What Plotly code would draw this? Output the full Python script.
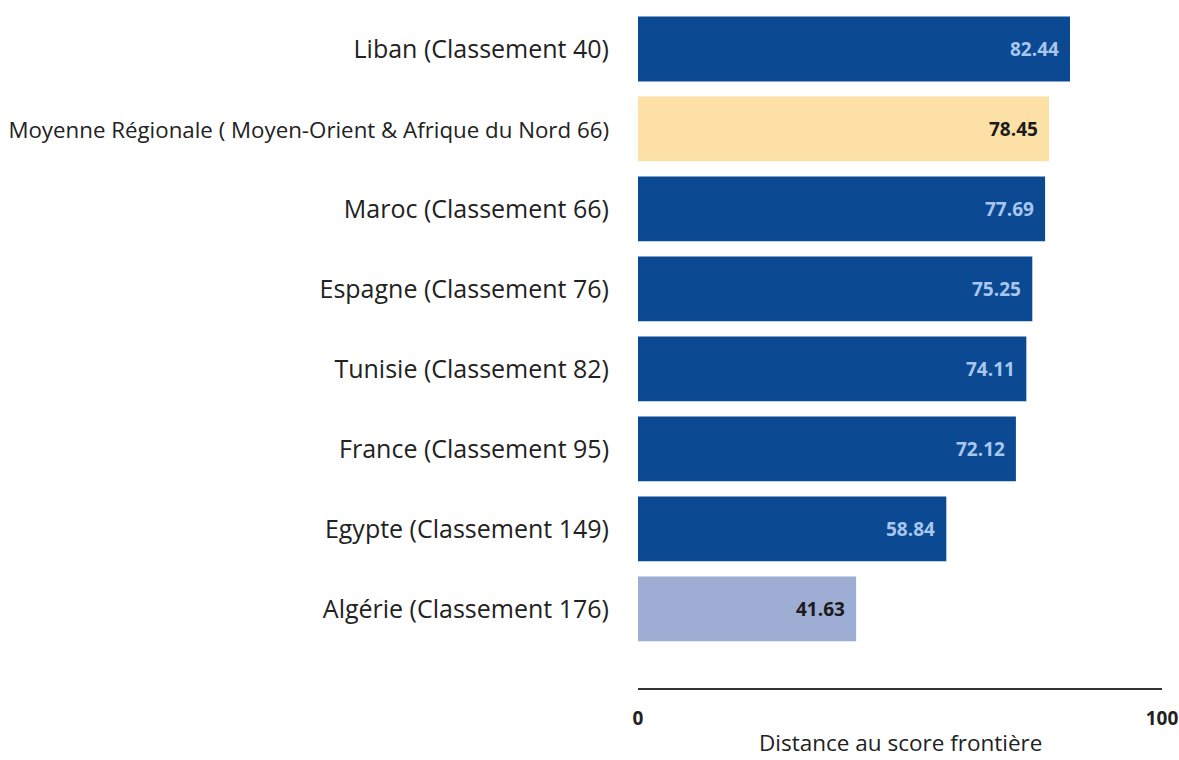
import plotly.graph_objects as go

categories = [
    "Liban (Classement 40)",
    "Moyenne Régionale ( Moyen-Orient & Afrique du Nord 66)",
    "Maroc (Classement 66)",
    "Espagne (Classement 76)",
    "Tunisie (Classement 82)",
    "France (Classement 95)",
    "Egypte (Classement 149)",
    "Algérie (Classement 176)",
]
values = [82.44, 78.45, 77.69, 75.25, 74.11, 72.12, 58.84, 41.63]
bar_colors = ["#0b4a92", "#fde0a6", "#0b4a92", "#0b4a92", "#0b4a92", "#0b4a92", "#0b4a92", "#9eadd3"]
text_colors = ["#a9c6ee", "#1b1b1b", "#a9c6ee", "#a9c6ee", "#a9c6ee", "#a9c6ee", "#a9c6ee", "#1b1b1b"]
x_ticks = [0, 100]
x_title = "Distance au score frontière"

FONT = "Open Sans, Noto Sans, sans-serif"

tick_text = []
for c in categories:
    if c.startswith("Moyenne"):
        tick_text.append('<span style="font-size:22.3px">' + c + "</span>")
    else:
        tick_text.append(c)

fig = go.Figure()
fig.add_trace(go.Bar(
    y=categories,
    x=values,
    orientation="h",
    marker=dict(color=bar_colors, line=dict(width=0)),
    width=0.81,
    hoverinfo="x+y",
))

for c, v, tc in zip(categories, values, text_colors):
    fig.add_annotation(
        x=v, y=c, xref="x", yref="y",
        text="<b>%.2f</b>" % v,
        xanchor="right", yanchor="middle",
        xshift=-9, showarrow=False,
        font=dict(family=FONT, size=19, color=tc),
    )

fig.add_annotation(
    x=0.5, y=-0.081, xref="paper", yref="paper",
    text=x_title, showarrow=False,
    xanchor="center", yanchor="middle",
    font=dict(family=FONT, size=22.5, color="#222222"),
)

fig.update_layout(
    autosize=False,
    width=1179, height=760,
    margin=dict(l=638, r=17, t=9, b=72),
    paper_bgcolor="white", plot_bgcolor="white",
    showlegend=False,
    font=dict(family=FONT, color="#222222"),
    xaxis=dict(
        range=[0, 100],
        tickvals=x_ticks,
        ticktext=["<b>%d</b>" % t for t in x_ticks],
        tickfont=dict(size=19, color="#222222", family=FONT),
        showgrid=False, zeroline=False,
        showline=True, linecolor="#333333", linewidth=2,
        ticks="", ticklabelstandoff=12,
        automargin=False,
        fixedrange=True,
    ),
    yaxis=dict(
        type="category",
        categoryorder="array", categoryarray=categories,
        tickvals=categories, ticktext=tick_text,
        range=[7.99, -0.5],
        tickfont=dict(size=25, color="#222222", family=FONT),
        showgrid=False, zeroline=False, showline=False,
        ticks="", ticklabelstandoff=28,
        automargin=False,
        fixedrange=True,
    ),
)

fig.write_html(
    "out.html",
    config={"displayModeBar": False, "responsive": False},
    post_script="document.body.style.margin='0';document.body.style.overflow='hidden';document.documentElement.style.overflow='hidden';",
)
